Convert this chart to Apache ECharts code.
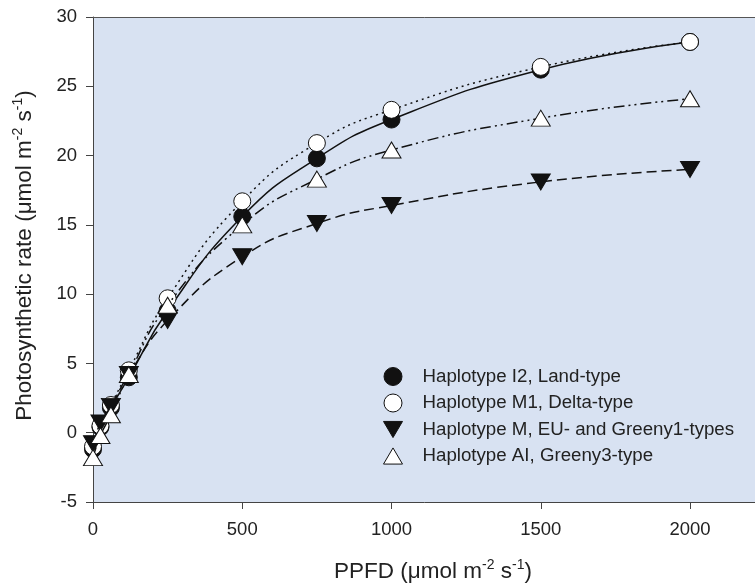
<!DOCTYPE html>
<html>
<head>
<meta charset="utf-8">
<script src="https://cdn.jsdelivr.net/npm/echarts@6/dist/echarts.min.js"></script>
<style>html,body{margin:0;padding:0;background:#fff}#c{width:755px;height:585px}</style>
</head>
<body>
<div id="c"></div>
<script>
const ppfd = [0, 25, 60, 120, 250, 500, 750, 1000, 1500, 2000];
const haplotypeI2 = [-1.2, 0.4, 1.8, 4.0, 8.8, 15.6, 19.8, 22.6, 26.2, 28.2];
const haplotypeM1 = [-1.0, 0.5, 2.0, 4.5, 9.7, 16.7, 20.9, 23.3, 26.4, 28.2];
const haplotypeM = [-0.8, 0.7, 1.9, 4.2, 8.1, 12.7, 15.1, 16.4, 18.1, 19.0];
const haplotypeAI = [-1.8, -0.2, 1.3, 4.2, 9.2, 15.0, 18.3, 20.4, 22.7, 24.1];
const seriesNames = ['Haplotype I2, Land-type', 'Haplotype M1, Delta-type', 'Haplotype M, EU- and Greeny1-types', 'Haplotype AI, Greeny3-type'];
const xTicks = [0, 500, 1000, 1500, 2000];

const DOWN_TRI = 'path://M0,0 L20,0 L10,17 Z';
const UP_TRI = 'path://M10,0 L20,17 L0,17 Z';
const FONT = 'Liberation Sans, Arial, sans-serif';
const zip = ys => ppfd.map((x, i) => [x, ys[i]]);

const defs = [
  {data: haplotypeI2, symbol: 'circle', size: 17, fill: '#111', type: 'solid'},
  {data: haplotypeM1, symbol: 'circle', size: 17, fill: '#fff', type: [2, 4]},
  {data: haplotypeM, symbol: DOWN_TRI, size: [19, 16], fill: '#111', type: [10, 5]},
  {data: haplotypeAI, symbol: UP_TRI, size: [19, 16], fill: '#fff', type: [11, 4, 2, 4, 2, 4]}
];

const chart = echarts.init(document.getElementById('c'), null, {renderer: 'canvas'});
const sup = {fontSize: 14, fontFamily: FONT, color: '#222', padding: [0, 0, 13, 0]};
chart.setOption({
  animation: false,
  textStyle: {fontFamily: FONT},
  grid: {left: 93, top: 17, width: 680, bottom: 83, outerBoundsMode: 'none', containLabel: false,
    show: true, backgroundColor: '#D8E2F2', borderWidth: 0},
  xAxis: [{
    type: 'value', min: 0, max: 2278, interval: 500,
    axisLine: {onZero: false, lineStyle: {color: '#444', width: 1}},
    axisTick: {show: true, length: 7, lineStyle: {color: '#444'}},
    splitLine: {show: false},
    axisLabel: {fontSize: 18.5, color: '#222', margin: 18, fontFamily: FONT,
      formatter: v => xTicks.indexOf(v) >= 0 ? String(v) : ''},
    name: 'PPFD (μmol m{sup|-2} s{sup|-1})', nameLocation: 'middle', nameGap: 56,
    nameTextStyle: {fontSize: 22.5, color: '#222', fontFamily: FONT, rich: {sup: sup}}
  }, {
    type: 'value', position: 'top', min: 0, max: 2278,
    axisLine: {show: true, onZero: false, lineStyle: {color: '#555', width: 1}},
    axisTick: {show: false}, axisLabel: {show: false}, splitLine: {show: false}
  }],
  yAxis: {
    type: 'value', min: -5, max: 30, interval: 5,
    axisLine: {show: true, lineStyle: {color: '#444', width: 1}},
    axisTick: {show: true, length: 7, lineStyle: {color: '#444'}},
    splitLine: {show: false},
    axisLabel: {fontSize: 18.5, color: '#222', margin: 16, fontFamily: FONT},
    name: 'Photosynthetic rate (μmol m{sup|-2} s{sup|-1})', nameLocation: 'middle', nameGap: 55,
    nameTextStyle: {fontSize: 22.5, color: '#222', fontFamily: FONT, rich: {sup: sup}, padding: [0, 0, 0, 8]}
  },
  legend: {
    orient: 'vertical', left: 378, top: 362, itemGap: 7.5, itemWidth: 19, itemHeight: 18,
    textStyle: {fontSize: 18.7, color: '#222', fontFamily: FONT, padding: [0, 0, 0, 15]},
    data: seriesNames.map((n, i) => ({name: n, icon: defs[i].symbol === 'circle' ? 'circle' : defs[i].symbol,
      itemStyle: {color: defs[i].fill, borderColor: '#111', borderWidth: 1}}))
  },
  series: defs.map((d, i) => ({
    name: seriesNames[i], type: 'line', data: zip(d.data), xAxisIndex: 0,
    smooth: 0.5,
    symbol: d.symbol, symbolSize: d.size,
    lineStyle: {color: '#111', width: 1.5, type: d.type},
    itemStyle: {color: d.fill, borderColor: '#111', borderWidth: 1},
    z: 2 + i
  }))
});
</script>
</body>
</html>
